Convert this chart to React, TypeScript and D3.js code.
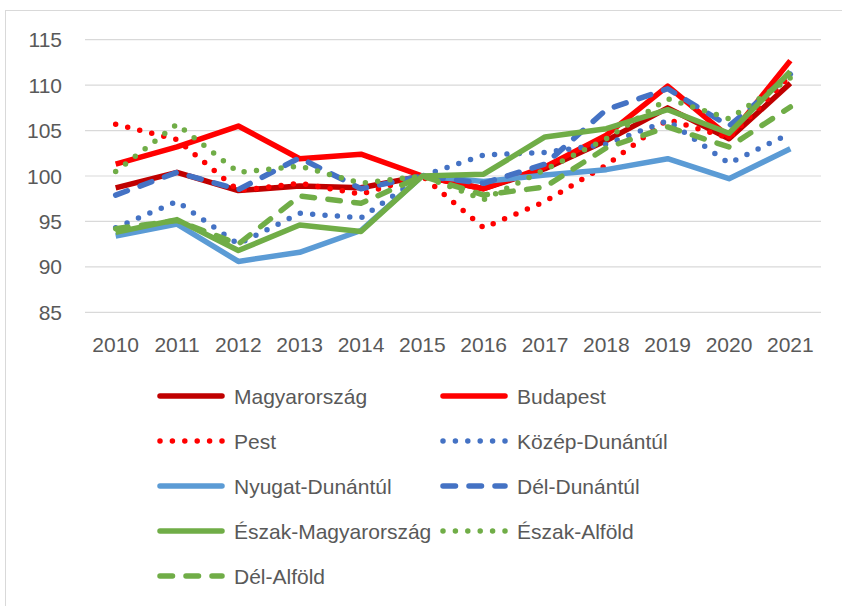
import * as d3 from "d3"

const years = ["2010", "2011", "2012", "2013", "2014", "2015", "2016", "2017", "2018", "2019", "2020", "2021"]
const yTicks = [85, 90, 95, 100, 105, 110, 115]

const magyarorszag = [98.7, 100.4, 98.4, 98.9, 98.7, 100, 98.6, 100.8, 103.9, 107.5, 104.1, 110.2]
const budapest = [101.3, 103.2, 105.5, 101.9, 102.4, 100, 98.6, 101.0, 104.5, 109.9, 104.3, 112.7]
const pest = [105.7, 104.0, 98.4, 99.2, 98.0, 100, 94.3, 97.2, 101.2, 106.2, 104.2, 111.0]
const kozepDunantul = [94.3, 97.2, 92.5, 95.9, 95.4, 100, 102.3, 102.6, 103.5, 106.1, 101.4, 104.7]
const nyugatDunantul = [93.4, 94.7, 90.6, 91.6, 94.0, 100, 99.4, 100.1, 100.7, 101.9, 99.7, 103.0]
const delDunantul = [97.9, 100.4, 98.5, 102.0, 98.6, 100, 99.2, 101.3, 107.3, 109.6, 105.5, 111.2]
const eszakMagyarorszag = [93.8, 95.2, 91.8, 94.6, 93.9, 100, 100.2, 104.3, 105.2, 107.3, 104.7, 111.5]
const eszakAlfold = [100.5, 105.7, 100.4, 101.1, 99.2, 100, 97.4, 100.7, 104.1, 108.5, 106.3, 110.8]
const delAlfold = [94.2, 95.1, 92.5, 97.8, 97.0, 100, 97.9, 98.8, 103.1, 105.4, 103.2, 107.6]

type Style = "solid" | "dot" | "dash"

const series: { name: string; values: number[]; color: string; style: Style }[] = [
  { name: "Magyarország", values: magyarorszag, color: "#C00000", style: "solid" },
  { name: "Budapest", values: budapest, color: "#FF0000", style: "solid" },
  { name: "Pest", values: pest, color: "#FF0000", style: "dot" },
  { name: "Közép-Dunántúl", values: kozepDunantul, color: "#4472C4", style: "dot" },
  { name: "Nyugat-Dunántúl", values: nyugatDunantul, color: "#5B9BD5", style: "solid" },
  { name: "Dél-Dunántúl", values: delDunantul, color: "#4472C4", style: "dash" },
  { name: "Észak-Magyarország", values: eszakMagyarorszag, color: "#70AD47", style: "solid" },
  { name: "Észak-Alföld", values: eszakAlfold, color: "#70AD47", style: "dot" },
  { name: "Dél-Alföld", values: delAlfold, color: "#70AD47", style: "dash" },
]

const width = 842
const height = 606
const plot = { left: 85, right: 821, top: 39.7, bottom: 312.3 }
const lineW = 5.5
const textColor = "#595959"
const font = "'Liberation Sans', Arial, sans-serif"

function dashFor(style: Style) {
  if (style === "dot") return "0 12.4"
  if (style === "dash") return "12.5 13.5"
  return undefined
}

export default function App() {
  const x = d3.scaleBand().domain(years).range([plot.left, plot.right])
  const y = d3.scaleLinear().domain([85, 115]).range([plot.bottom, plot.top])
  const cx = (i: number) => (x(years[i]) ?? 0) + x.bandwidth() / 2

  const line = d3
    .line<number>()
    .x((_, i) => cx(i))
    .y((d) => y(d))

  // legend layout: two columns, rows 45px apart
  const legendCols = [157, 440]
  const legendTop = 396
  const rowGap = 45
  const swatch = 68

  return (
    <svg
      width={width}
      height={height}
      style={{ position: "absolute", left: 0, top: 0, background: "#fff" }}
      fontFamily={font}
    >
      <rect x={5.5} y={10.5} width={width + 10} height={height + 10} fill="#fff" stroke="#D9D9D9" />

      {yTicks.map((t) => (
        <g key={t}>
          <line x1={plot.left} x2={plot.right} y1={y(t)} y2={y(t)} stroke="#D9D9D9" strokeWidth={1.2} />
          <text x={62} y={y(t)} dy="0.36em" textAnchor="end" fontSize={21} fill={textColor}>
            {t}
          </text>
        </g>
      ))}

      {years.map((yr, i) => (
        <text key={yr} x={cx(i)} y={344.5} dy="0.36em" textAnchor="middle" fontSize={21} fill={textColor}>
          {yr}
        </text>
      ))}

      {series.map((s) => (
        <path
          key={s.name}
          d={line(s.values) ?? ""}
          fill="none"
          stroke={s.color}
          strokeWidth={lineW}
          strokeLinejoin="round"
          strokeLinecap={s.style === "solid" ? "butt" : "round"}
          strokeDasharray={dashFor(s.style)}
        />
      ))}

      {series.map((s, i) => {
        const lx = legendCols[i % 2]
        const ly = legendTop + Math.floor(i / 2) * rowGap
        return (
          <g key={s.name}>
            <line
              x1={lx + 3}
              x2={lx + swatch - 3}
              y1={ly}
              y2={ly}
              stroke={s.color}
              strokeWidth={lineW}
              strokeLinecap="round"
              strokeDasharray={dashFor(s.style)}
            />
            <text x={lx + swatch + 9} y={ly} dy="0.36em" fontSize={21} fill={textColor}>
              {s.name}
            </text>
          </g>
        )
      })}
    </svg>
  )
}
